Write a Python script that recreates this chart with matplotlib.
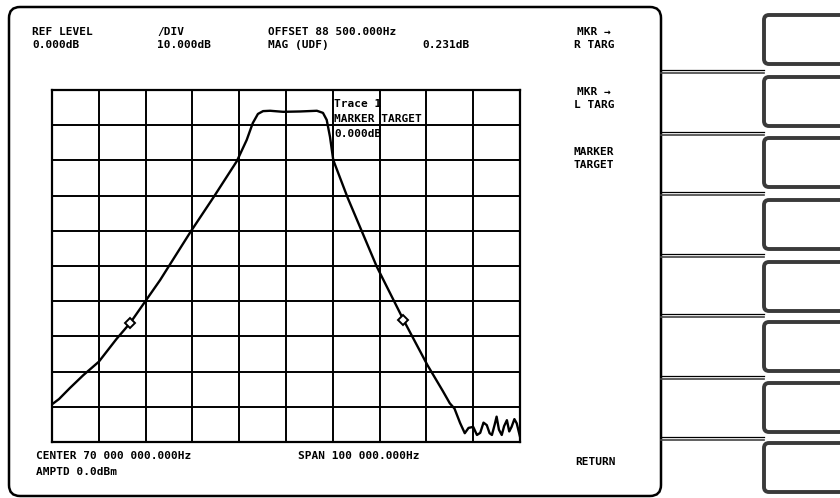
import matplotlib.pyplot as plt
from matplotlib.patches import FancyBboxPatch

# Trace: offset from 70 MHz centre (kHz), level (dB)
freq_khz = [-49.7, -48.5, -46.2, -43.3, -40.0, -36.2, -33.3, -30.1, -26.9, -25.1,
            -20.4, -15.4, -10.5, -8.4, -7.1, -6.0, -4.9, -3.4, -0.6, 3.0, 6.6,
            7.9, 8.7, 9.4, 10.1, 13.2, 19.4, 25.1, 30.2, 33.5, 35.0, 36.0, 37.2,
            38.2, 39.0, 40.0, 40.8, 41.5, 42.2, 42.9, 43.5, 44.0, 44.6, 45.0,
            45.5, 46.1, 46.6, 47.2, 47.7, 48.2, 48.8, 49.3, 50.0]
level_db = [-89.0, -87.8, -84.7, -81.0, -77.2, -70.7, -66.2, -60.1, -54.0, -50.2,
            -40.3, -30.3, -20.2, -14.2, -9.4, -6.8, -6.0, -5.9, -6.2, -6.1, -5.9,
            -6.5, -8.5, -13.3, -19.9, -30.7, -50.2, -65.3, -78.1, -85.5, -89.0,
            -90.5, -94.6, -97.5, -96.0, -95.7, -98.0, -97.4, -94.5, -95.2, -97.5,
            -98.0, -95.0, -92.8, -96.5, -98.0, -95.5, -93.8, -97.0, -95.7, -93.5,
            -94.7, -98.5]

# marker positions on the trace
marker_khz = [-33.3, 25.1]
marker_db = [-66.2, -65.3]

header_top = ["REF LEVEL", "/DIV", "OFFSET 88 500.000Hz"]
header_bottom = ["0.000dB", "10.000dB", "MAG (UDF)"]
mag_value = "0.231dB"
trace_note = ["Trace 1", "MARKER TARGET", "0.000dB"]
softkeys = [("MKR \u2192", "R TARG"), ("MKR \u2192", "L TARG"), ("MARKER", "TARGET")]
footer = ["CENTER 70 000 000.000Hz", "SPAN 100 000.000Hz", "AMPTD 0.0dBm"]

plt.rcParams['font.family'] = ['DejaVu Sans Mono']
W, H = 840, 498
fig = plt.figure(figsize=(W / 100, H / 100), dpi=100)

# graticule: 10 x 10 divisions, 10 kHz and 10 dB per division
gx0, gx1, gy0, gy1 = 52, 520, 90, 442
ax = fig.add_axes([gx0 / W, 1 - gy1 / H, (gx1 - gx0) / W, (gy1 - gy0) / H])
ax.set_xlim(-50, 50)
ax.set_ylim(-100, 0)
ax.set_xticks(range(-50, 51, 10))
ax.set_yticks(range(-100, 1, 10))
ax.grid(True, color='black', linewidth=1.4)
ax.tick_params(length=0, labelbottom=False, labelleft=False)
for s in ax.spines.values():
    s.set_linewidth(1.6)
ax.plot(freq_khz, level_db, color='black', linewidth=1.7, zorder=3)
ax.plot(marker_khz, marker_db, linestyle='none', marker='D', markersize=5,
        markerfacecolor='white', markeredgecolor='black', markeredgewidth=1.4, zorder=4)

# overlay in pixel units for frame, softkeys and annotations
ov = fig.add_axes([0, 0, 1, 1])
ov.set_xlim(0, W)
ov.set_ylim(H, 0)
ov.axis('off')
ov.patch.set_alpha(0)

ov.add_patch(FancyBboxPatch((9, 7), 652, 489, boxstyle="round,pad=0,rounding_size=11",
                            fill=False, ec='black', lw=1.8))

button_tops = [15, 77, 138, 200, 262, 322, 383, 443]
for y in button_tops:
    ov.add_patch(FancyBboxPatch((764, y), 90, 49, boxstyle="round,pad=0,rounding_size=5",
                                fc='white', ec='#3a3a3a', lw=2.8))
for y in [71.5, 133, 193, 255, 315, 377, 438]:
    ov.plot([661, 764], [y - 1.2, y - 1.2], color='black', lw=0.9)
    ov.plot([661, 764], [y + 1.6, y + 1.6], color='#444444', lw=1.2)

tk = dict(fontsize=8, fontweight='bold', va='center', color='black')
for x, t, b in zip([32, 157, 268], header_top, header_bottom):
    ov.text(x, 32, t, ha='left', **tk)
    ov.text(x, 45, b, ha='left', **tk)
ov.text(470, 45, mag_value, ha='right', **tk)

for y, t in zip([104, 119, 134], trace_note):
    ov.text(334, y, t, ha='left', **tk)

for y, (a, b) in zip([32, 92, 152], softkeys):
    ov.text(594, y, a, ha='center', **tk)
    ov.text(594, y + 13, b, ha='center', **tk)
ov.text(596, 462, "RETURN", ha='center', **tk)

ov.text(36, 456, footer[0], ha='left', **tk)
ov.text(298, 456, footer[1], ha='left', **tk)
ov.text(36, 472, footer[2], ha='left', **tk)

fig.savefig('out.png', dpi=100)
